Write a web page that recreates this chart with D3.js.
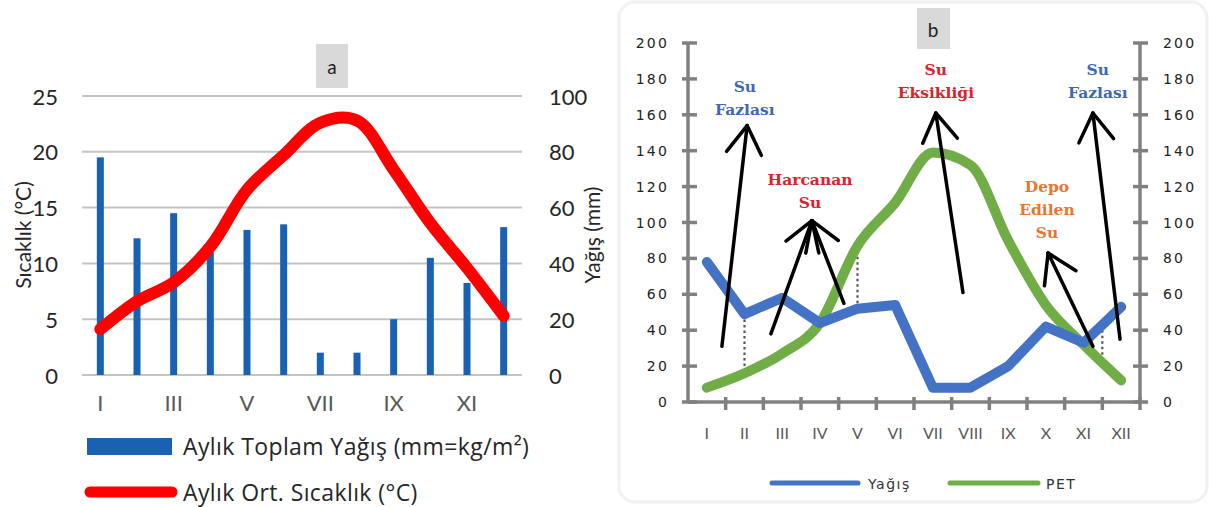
<!DOCTYPE html>
<html>
<head>
<meta charset="utf-8">
<script src="https://cdn.jsdelivr.net/npm/d3@7"></script>
<style>
  body { margin: 0; background: #fff; }
  svg { display: block; }
</style>
</head>
<body>
<svg id="chart" width="1209" height="507"></svg>
<script>
// aylar ve veriler
const months = ["I", "II", "III", "IV", "V", "VI", "VII", "VIII", "IX", "X", "XI", "XII"];
const oddMonths = ["I", "III", "V", "VII", "IX", "XI"];
const yagis = [78, 49, 58, 44, 52, 54, 8, 8, 20, 42, 33, 53];
const sicaklik = [4.1, 6.6, 8.3, 11.5, 16.6, 19.7, 22.6, 22.8, 18.4, 13.6, 9.6, 5.3];
const pet = [8, 16, 27, 44, 87, 111, 139, 132, 90, 54, 32, 12];

const tempTicks = [0, 5, 10, 15, 20, 25];
const rainTicks = [0, 20, 40, 60, 80, 100];
const bTicks = [0, 20, 40, 60, 80, 100, 120, 140, 160, 180, 200];

// panel b annotations, in (month position, mm)
const arrowFrom = [[0.40, 31], [1.70, 38], [3.64, 55], [6.80, 61], [10.25, 31], [10.97, 35]];
const arrowTo = [[1.07, 154], [2.79, 101], [2.79, 101], [6.08, 161], [9.06, 83], [10.25, 161]];
const noteText = [["Su", "Fazlası"], ["Harcanan", "Su"], ["Su", "Eksikliği"], ["Su", "Fazlası"], ["Depo", "Edilen", "Su"]];
const noteAt = [[1.01, 176], [2.74, 124], [6.08, 185], [10.38, 185], [9.03, 120]];
const noteColor = ["#3e68b4", "#d9232b", "#d9232b", "#3e68b4", "#ea7430"];
const dotAt = [1, 4, 10.5];

const svg = d3.select("#chart");

// ---------------- panel a ----------------
const fontA = "Lato, 'Open Sans', sans-serif";
const fontLeg = "'Open Sans', Lato, sans-serif";
const xA = d3.scaleBand().domain(months).range([82, 522]);
const yT = d3.scaleLinear().domain([0, 25]).range([375, 96]);
const yP = d3.scaleLinear().domain([0, 100]).range([375, 96]);

const a = svg.append("g");

a.selectAll("line.grid")
    .data(tempTicks)
    .enter().append("line")
    .attr("x1", 82).attr("x2", 522)
    .attr("y1", d => yT(d)).attr("y2", d => yT(d))
    .attr("stroke", "#c4c4c4")
    .attr("stroke-width", 2);

a.selectAll("text.lt")
    .data(tempTicks)
    .enter().append("text")
    .attr("x", 58).attr("y", d => yT(d))
    .attr("text-anchor", "end")
    .attr("dominant-baseline", "central")
    .attr("font-family", fontA).attr("font-size", 22)
    .attr("fill", "#262626")
    .text(d => d);

a.selectAll("text.rt")
    .data(rainTicks)
    .enter().append("text")
    .attr("x", 549).attr("y", d => yP(d))
    .attr("dominant-baseline", "central")
    .attr("font-family", fontA).attr("font-size", 22)
    .attr("fill", "#262626")
    .text(d => d);

a.selectAll("text.xl")
    .data(oddMonths)
    .enter().append("text")
    .attr("x", d => xA(d) + xA.bandwidth() / 2).attr("y", 402)
    .attr("text-anchor", "middle")
    .attr("dominant-baseline", "central")
    .attr("font-family", fontA).attr("font-size", 22)
    .attr("fill", "#595959")
    .text(d => d);

a.append("text")
    .attr("transform", "translate(22,235) rotate(-90)")
    .attr("text-anchor", "middle")
    .attr("dominant-baseline", "central")
    .attr("font-family", fontA).attr("font-size", 21)
    .attr("fill", "#262626")
    .text("Sıcaklık (°C)");

a.append("text")
    .attr("transform", "translate(591,235) rotate(-90)")
    .attr("text-anchor", "middle")
    .attr("dominant-baseline", "central")
    .attr("font-family", fontA).attr("font-size", 21)
    .attr("fill", "#262626")
    .text("Yağış (mm)");

a.selectAll("rect.bar")
    .data(yagis)
    .enter().append("rect")
    .attr("x", (d, i) => xA(months[i]) + xA.bandwidth() / 2 - 3.5)
    .attr("width", 7)
    .attr("y", d => yP(d))
    .attr("height", d => yP(0) - yP(d))
    .attr("fill", "#1861b3");

a.append("path")
    .datum(sicaklik)
    .attr("d", d3.line()
        .x((d, i) => xA(months[i]) + xA.bandwidth() / 2)
        .y(d => yT(d))
        .curve(d3.curveCatmullRom))
    .attr("fill", "none")
    .attr("stroke", "#ff0000")
    .attr("stroke-width", 12)
    .attr("stroke-linecap", "round")
    .attr("stroke-linejoin", "round");

// title box a
a.append("rect").attr("x", 316).attr("y", 44).attr("width", 32).attr("height", 44).attr("fill", "#d9d9d9");
a.append("text").attr("x", 332).attr("y", 66)
    .attr("text-anchor", "middle").attr("dominant-baseline", "central")
    .attr("font-family", fontA).attr("font-size", 19).attr("fill", "#222")
    .text("a");

// legend a
a.append("rect").attr("x", 87).attr("y", 438).attr("width", 85).attr("height", 17).attr("fill", "#1861b3");
a.append("text").attr("x", 183).attr("y", 446)
    .attr("dominant-baseline", "central")
    .attr("font-family", fontLeg).attr("font-size", 23).attr("letter-spacing", 0.4).attr("fill", "#262626")
    .text("Aylık Toplam Yağış (mm=kg/m²)");
a.append("line").attr("x1", 90).attr("x2", 172).attr("y1", 492).attr("y2", 492)
    .attr("stroke", "#ff0000").attr("stroke-width", 11).attr("stroke-linecap", "round");
a.append("text").attr("x", 183).attr("y", 492)
    .attr("dominant-baseline", "central")
    .attr("font-family", fontLeg).attr("font-size", 23).attr("letter-spacing", 0.4).attr("fill", "#262626")
    .text("Aylık Ort. Sıcaklık (°C)");

// ---------------- panel b ----------------
const fontB = "'DejaVu Sans', sans-serif";
const xB = d3.scaleLinear().domain([-0.5, 11.5]).range([688, 1140]);
const yB = d3.scaleLinear().domain([0, 200]).range([402, 43]);

const b = svg.append("g");

b.append("rect")
    .attr("x", 619).attr("y", 2).attr("width", 588).attr("height", 500).attr("rx", 16)
    .attr("fill", "#fff").attr("stroke", "#f1f1f1").attr("stroke-width", 3);

// axes
const axisCol = "#808080";
b.append("line").attr("x1", xB(-0.5)).attr("x2", xB(-0.5)).attr("y1", yB(200)).attr("y2", yB(0))
    .attr("stroke", axisCol).attr("stroke-width", 3.5);
b.append("line").attr("x1", xB(11.5)).attr("x2", xB(11.5)).attr("y1", yB(200)).attr("y2", yB(0))
    .attr("stroke", axisCol).attr("stroke-width", 3.5);
b.append("line").attr("x1", xB(-0.5)).attr("x2", xB(11.5)).attr("y1", yB(0)).attr("y2", yB(0))
    .attr("stroke", axisCol).attr("stroke-width", 3.5);

b.selectAll("line.lt")
    .data(bTicks)
    .enter().append("line")
    .attr("x1", xB(-0.5) - 6).attr("x2", xB(-0.5) + 9)
    .attr("y1", d => yB(d)).attr("y2", d => yB(d))
    .attr("stroke", axisCol).attr("stroke-width", 3.5);
b.selectAll("line.rt")
    .data(bTicks)
    .enter().append("line")
    .attr("x1", xB(11.5) - 7).attr("x2", xB(11.5) + 8)
    .attr("y1", d => yB(d)).attr("y2", d => yB(d))
    .attr("stroke", axisCol).attr("stroke-width", 3.5);
b.selectAll("line.bt")
    .data(months)
    .enter().append("line")
    .attr("x1", (d, i) => xB(i + 0.5)).attr("x2", (d, i) => xB(i + 0.5))
    .attr("y1", yB(0) - 5).attr("y2", yB(0) + 8)
    .attr("stroke", axisCol).attr("stroke-width", 3.5);

b.selectAll("text.lt")
    .data(bTicks)
    .enter().append("text")
    .attr("x", 669).attr("y", d => yB(d))
    .attr("text-anchor", "end").attr("dominant-baseline", "central")
    .attr("font-family", fontB).attr("font-size", 14).attr("letter-spacing", 2.2)
    .attr("fill", "#222")
    .text(d => d);
b.selectAll("text.rt")
    .data(bTicks)
    .enter().append("text")
    .attr("x", 1163).attr("y", d => yB(d))
    .attr("dominant-baseline", "central")
    .attr("font-family", fontB).attr("font-size", 14).attr("letter-spacing", 2.2)
    .attr("fill", "#222")
    .text(d => d);
b.selectAll("text.xl")
    .data(months)
    .enter().append("text")
    .attr("x", (d, i) => xB(i)).attr("y", 432)
    .attr("text-anchor", "middle").attr("dominant-baseline", "central")
    .attr("font-family", fontA).attr("font-size", 16)
    .attr("fill", "#595959")
    .text(d => d);

// dotted differences
function interp(arr, m) {
    const i0 = Math.floor(m), i1 = Math.ceil(m);
    return arr[i0] + (arr[i1] - arr[i0]) * (m - i0);
}
b.selectAll("line.dot")
    .data(dotAt)
    .enter().append("line")
    .attr("x1", d => xB(d)).attr("x2", d => xB(d))
    .attr("y1", d => yB(interp(yagis, d))).attr("y2", d => yB(interp(pet, d)))
    .attr("stroke", "#555").attr("stroke-width", 2.2).attr("stroke-dasharray", "2.5,3");

// lines
b.append("path")
    .datum(pet)
    .attr("d", d3.line().x((d, i) => xB(i)).y(d => yB(d)).curve(d3.curveMonotoneX))
    .attr("fill", "none").attr("stroke", "#70ad47").attr("stroke-width", 10)
    .attr("stroke-linecap", "round").attr("stroke-linejoin", "round");
b.append("path")
    .datum(yagis)
    .attr("d", d3.line().x((d, i) => xB(i)).y(d => yB(d)))
    .attr("fill", "none").attr("stroke", "#4472c4").attr("stroke-width", 10)
    .attr("stroke-linecap", "round").attr("stroke-linejoin", "round");

// arrows
const barbLen = 33, barbAng = 32 * Math.PI / 180;
arrowFrom.forEach((f, k) => {
    const x0 = xB(f[0]), y0 = yB(f[1]);
    const x1 = xB(arrowTo[k][0]), y1 = yB(arrowTo[k][1]);
    const len = Math.hypot(x0 - x1, y0 - y1);
    const ux = (x0 - x1) / len, uy = (y0 - y1) / len;
    const g = b.append("g").attr("stroke", "#000").attr("stroke-width", 3.5).attr("stroke-linecap", "round");
    g.append("line").attr("x1", x0).attr("y1", y0).attr("x2", x1).attr("y2", y1);
    [barbAng, -barbAng].forEach(t => {
        const bx = ux * Math.cos(t) - uy * Math.sin(t);
        const by = ux * Math.sin(t) + uy * Math.cos(t);
        g.append("line").attr("x1", x1).attr("y1", y1)
            .attr("x2", x1 + bx * barbLen).attr("y2", y1 + by * barbLen);
    });
});

// notes
noteText.forEach((lines, k) => {
    b.append("g").selectAll("text")
        .data(lines)
        .enter().append("text")
        .attr("x", xB(noteAt[k][0]))
        .attr("y", (d, j) => yB(noteAt[k][1]) + j * 23)
        .attr("text-anchor", "middle").attr("dominant-baseline", "central")
        .attr("font-family", "'DejaVu Serif', serif").attr("font-weight", "bold")
        .attr("font-size", 15.5).attr("fill", noteColor[k])
        .text(d => d);
});

// title box b
b.append("rect").attr("x", 917).attr("y", 8).attr("width", 33).attr("height", 41).attr("fill", "#d9d9d9");
b.append("text").attr("x", 933).attr("y", 29)
    .attr("text-anchor", "middle").attr("dominant-baseline", "central")
    .attr("font-family", fontA).attr("font-size", 19).attr("fill", "#222")
    .text("b");

// legend b
b.append("line").attr("x1", 772).attr("x2", 858).attr("y1", 483).attr("y2", 483)
    .attr("stroke", "#4472c4").attr("stroke-width", 5).attr("stroke-linecap", "round");
b.append("text").attr("x", 868).attr("y", 484)
    .attr("dominant-baseline", "central")
    .attr("font-family", fontB).attr("font-size", 14).attr("letter-spacing", 1.5).attr("fill", "#333")
    .text("Yağış");
b.append("line").attr("x1", 950).attr("x2", 1038).attr("y1", 483).attr("y2", 483)
    .attr("stroke", "#70ad47").attr("stroke-width", 5).attr("stroke-linecap", "round");
b.append("text").attr("x", 1046).attr("y", 484)
    .attr("dominant-baseline", "central")
    .attr("font-family", fontB).attr("font-size", 14).attr("letter-spacing", 1.5).attr("fill", "#333")
    .text("PET");
</script>
</body>
</html>
